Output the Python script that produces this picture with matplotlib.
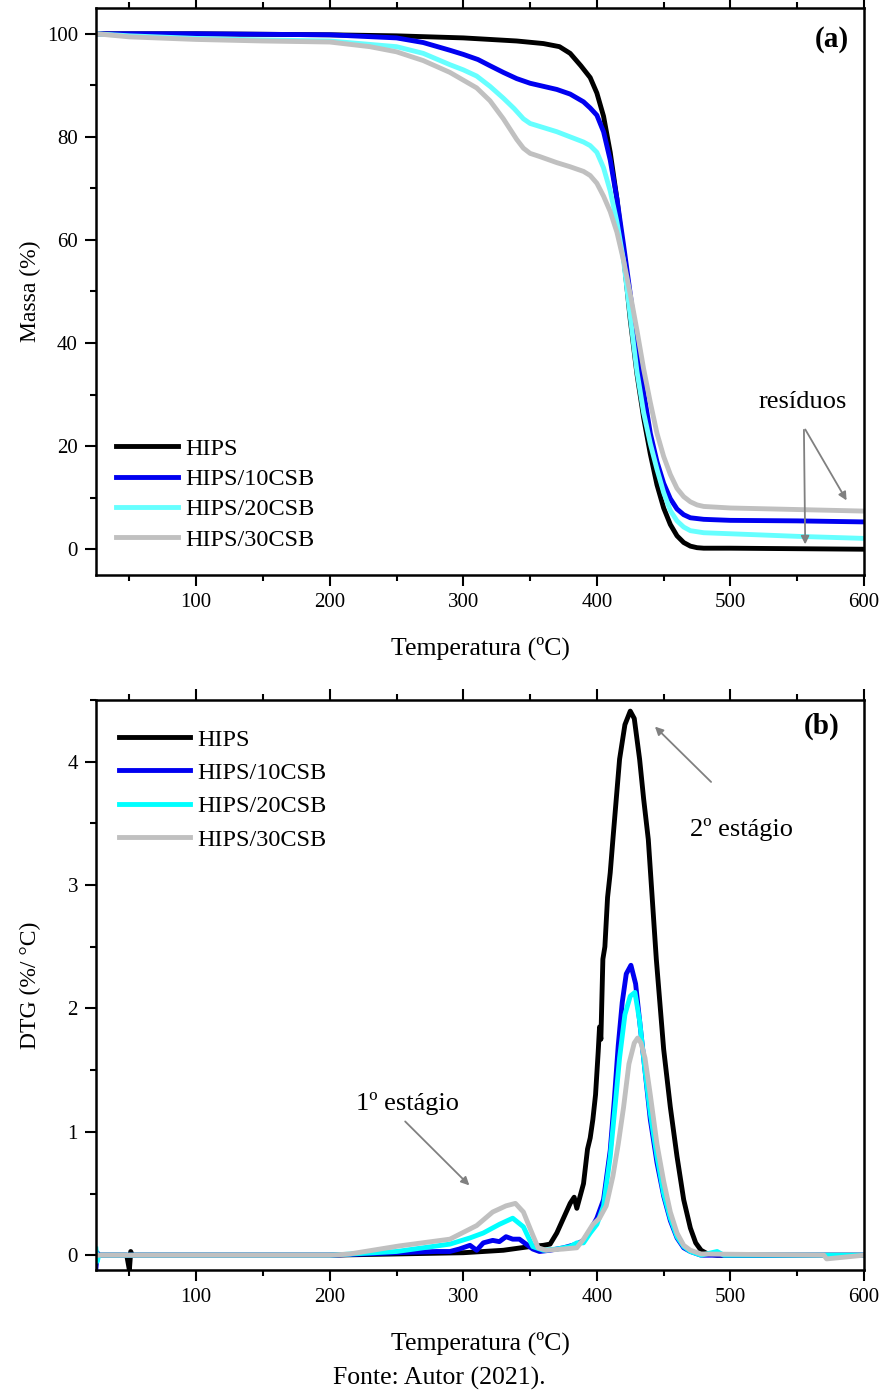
"""TG (a) and DTG (b) curves for HIPS and HIPS/CSB composites."""

import matplotlib

matplotlib.use("Agg")
import matplotlib.pyplot as plt
from matplotlib.ticker import MultipleLocator

plt.rcParams["font.family"] = ["Liberation Serif", "DejaVu Serif"]

W, H = 883, 1391

# ---- (a) TG: mass (%) vs temperature (C) ----
tg_hips_t = [25, 100, 200, 250, 300, 340, 360, 372, 380, 388, 395, 400, 405, 410, 415,
             420, 425, 430, 435, 440, 445, 450, 455, 460, 465, 470, 475, 480, 500, 550, 600]
tg_hips_m = [100, 100, 99.8, 99.6, 99.2, 98.6, 98.1, 97.5, 96.2, 93.8, 91.5, 88.5, 84.0, 77.0, 68.0,
             57.0, 44.5, 34.0, 25.5, 18.5, 12.5, 8.0, 4.8, 2.6, 1.3, 0.6, 0.3, 0.2, 0.2, 0.1, 0.0]

tg_10_t = [25, 100, 200, 250, 270, 290, 300, 311, 320, 330, 340, 350, 360, 370, 380, 390, 395,
           400, 405, 410, 415, 420, 425, 430, 435, 440, 445, 450, 455, 460, 465, 470, 480, 500, 550, 600]
tg_10_m = [100, 100, 99.8, 99.2, 98.3, 96.8, 96.0, 95.0, 93.8, 92.5, 91.3, 90.4, 89.8, 89.2, 88.3, 86.8, 85.6,
           84.2, 81.0, 75.5, 68.0, 59.0, 49.5, 39.5, 30.5, 22.5, 17.0, 12.8, 9.8, 7.8, 6.7, 6.1, 5.8, 5.6, 5.5, 5.3]

tg_20_t = [25, 50, 100, 150, 200, 250, 270, 290, 300, 310, 320, 330, 338, 345, 350, 360, 370, 380, 390,
           395, 400, 405, 410, 415, 420, 426, 430, 435, 440, 445, 450, 455, 460, 465, 470, 480, 500, 550, 600]
tg_20_m = [100, 99.6, 99.1, 98.8, 98.6, 97.5, 96.2, 94.0, 93.0, 91.8, 89.8, 87.5, 85.5, 83.5, 82.6, 81.8, 81.0, 80.0, 79.0,
           78.3, 77.0, 74.0, 69.5, 63.5, 56.0, 43.0, 34.5, 26.5, 20.5, 15.5, 11.0, 7.5, 5.5, 4.3, 3.6, 3.2, 3.0, 2.5, 2.1]

tg_30_t = [25, 50, 100, 150, 200, 230, 250, 270, 290, 300, 310, 320, 330, 340, 345, 350, 357, 370, 380, 390,
           395, 400, 405, 410, 415, 420, 425, 430, 435, 440, 445, 450, 455, 460, 465, 470, 475, 480, 500, 550, 600]
tg_30_m = [100, 99.4, 98.9, 98.6, 98.4, 97.5, 96.5, 94.8, 92.5, 91.0, 89.5, 87.0, 83.5, 79.5, 77.8, 76.8, 76.2, 75.0, 74.2, 73.3,
           72.5, 71.0, 68.5, 65.5, 61.5, 56.0, 49.5, 42.5, 35.0, 28.5, 22.5, 18.0, 14.5, 11.8, 10.2, 9.2, 8.6, 8.3, 8.0, 7.7, 7.4]

# ---- (b) DTG (%/C) vs temperature (C) ----
dtg_hips_t = [25, 48, 50, 51, 52, 100, 200, 250, 300, 330, 350, 360, 365, 370, 375, 380, 383, 385, 387, 390, 393,
              395, 397, 399, 401, 402, 403, 404.5, 406, 408, 410, 412, 417, 421, 425, 428, 432, 435, 438.5,
              444.5, 450, 455, 460, 465, 470, 474, 478, 483, 490, 600]
dtg_hips = [0.0, 0.0, -0.12, 0.03, 0.0, 0.0, 0.0, 0.01, 0.02, 0.04, 0.07, 0.08, 0.09, 0.18, 0.30, 0.42, 0.47, 0.38, 0.46, 0.58, 0.86,
            0.95, 1.10, 1.30, 1.65, 1.85, 1.75, 2.40, 2.50, 2.90, 3.10, 3.37, 4.02, 4.30, 4.41, 4.35, 4.02, 3.70, 3.37,
            2.40, 1.67, 1.20, 0.80, 0.45, 0.22, 0.10, 0.04, 0.01, 0.0, 0.0]

dtg_10_t = [25, 26, 27, 100, 200, 250, 280, 290, 297, 305, 310, 315, 322, 327, 332, 337, 342, 347, 352, 357, 365,
            375, 385, 390, 395, 400, 405, 410, 413, 416, 419, 422, 425.5, 429, 433, 437, 440, 445, 450, 455,
            460, 465, 470, 478, 600]
dtg_10 = [-0.1, 0.02, 0.0, 0.0, 0.0, 0.02, 0.03, 0.03, 0.05, 0.08, 0.04, 0.10, 0.12, 0.11, 0.15, 0.13, 0.13, 0.09, 0.05, 0.03, 0.04,
          0.06, 0.09, 0.12, 0.20, 0.30, 0.45, 0.85, 1.25, 1.70, 2.05, 2.28, 2.35, 2.20, 1.80, 1.40, 1.10, 0.75, 0.48, 0.28,
          0.14, 0.06, 0.03, 0.0, 0.0]

dtg_20_t = [25, 26, 27, 100, 200, 250, 290, 305, 315, 327, 337, 345, 352, 360, 370, 380, 385, 390, 395, 400,
            405, 410, 414, 417, 421, 425, 428.5, 432, 436, 440, 445, 450, 455, 460, 465, 470, 478, 490, 495, 600]
dtg_20 = [0.05, -0.05, 0.0, 0.0, 0.0, 0.03, 0.09, 0.14, 0.18, 0.25, 0.30, 0.23, 0.07, 0.04, 0.05, 0.07, 0.10, 0.10, 0.18, 0.25,
          0.40, 0.80, 1.25, 1.60, 1.95, 2.10, 2.13, 1.90, 1.50, 1.15, 0.80, 0.50, 0.30, 0.15, 0.07, 0.03, 0.0, 0.03, 0.0, 0.0]

dtg_30_t = [25, 100, 200, 215, 252, 290, 310, 322, 332, 339, 345, 351, 356, 362, 375, 385, 390, 397, 402,
            407, 412, 416, 420, 424, 428, 430.5, 433, 436, 440, 445, 450, 455, 460, 465, 470, 478, 570, 572, 600]
dtg_30 = [0.0, 0.0, 0.0, 0.01, 0.075, 0.13, 0.24, 0.35, 0.40, 0.42, 0.35, 0.19, 0.06, 0.04, 0.05, 0.06, 0.13, 0.25, 0.30,
          0.40, 0.64, 0.90, 1.20, 1.55, 1.72, 1.76, 1.72, 1.60, 1.30, 0.90, 0.60, 0.35, 0.18, 0.08, 0.04, 0.01, 0.0, -0.03, 0.0]

labels = ["HIPS", "HIPS/10CSB", "HIPS/20CSB", "HIPS/30CSB"]
colors_a = ["#000000", "#0000f0", "#66ffff", "#c0c0c0"]
colors_b = ["#000000", "#0000f0", "#00ffff", "#c0c0c0"]
ARROW = dict(arrowstyle="-|>", color="#808080", lw=1.3, mutation_scale=12)


def style_axis(ax):
    ax.set_xlim(25, 600)
    ax.xaxis.set_major_locator(MultipleLocator(100))
    ax.xaxis.set_minor_locator(MultipleLocator(50))
    ax.tick_params(which="both", direction="out", top=True, right=False,
                   labeltop=False, width=1.5, labelsize=15, pad=5)
    ax.tick_params(which="major", length=8)
    ax.tick_params(which="minor", length=4)
    for s in ax.spines.values():
        s.set_linewidth(1.8)


fig = plt.figure(figsize=(W / 100, H / 100), dpi=100)

# panel (a)
ax_a = fig.add_axes([96 / W, 1 - 575 / H, 768 / W, 567 / H])
for t, m, c, lab in zip([tg_hips_t, tg_10_t, tg_20_t, tg_30_t],
                        [tg_hips_m, tg_10_m, tg_20_m, tg_30_m], colors_a, labels):
    ax_a.plot(t, m, color=c, lw=3.5, label=lab)
style_axis(ax_a)
ax_a.set_ylim(-5, 105)
ax_a.yaxis.set_major_locator(MultipleLocator(20))
ax_a.yaxis.set_minor_locator(MultipleLocator(10))
ax_a.text(0.98, 0.944, "(a)", transform=ax_a.transAxes, ha="right", va="center",
          fontsize=21, fontweight="bold")
ax_a.text(554, 28.5, "resíduos", ha="center", va="center", fontsize=19)
for tip in [(556, 0.4), (588, 9.0)]:
    ax_a.annotate("", xy=tip, xytext=(555, 23.7), arrowprops=ARROW)
ax_a.legend(loc="upper left", bbox_to_anchor=(0.026, 0.242), frameon=False, fontsize=17.5,
            handlelength=2.55, handletextpad=0.29, labelspacing=0.34, borderpad=0,
            borderaxespad=0)

# panel (b)
ax_b = fig.add_axes([96 / W, 1 - 1270 / H, 768 / W, 570 / H])
for t, d, c, lab in zip([dtg_hips_t, dtg_10_t, dtg_20_t, dtg_30_t],
                        [dtg_hips, dtg_10, dtg_20, dtg_30], colors_b, labels):
    ax_b.plot(t, d, color=c, lw=3.5, label=lab)
style_axis(ax_b)
ax_b.set_ylim(-0.12, 4.5)
ax_b.yaxis.set_major_locator(MultipleLocator(1))
ax_b.yaxis.set_minor_locator(MultipleLocator(0.5))
ax_b.text(0.968, 0.953, "(b)", transform=ax_b.transAxes, ha="right", va="center",
          fontsize=21, fontweight="bold")
ax_b.text(508.5, 3.45, "2º estágio", ha="center", va="center", fontsize=19)
ax_b.annotate("", xy=(442, 4.3), xytext=(487, 3.82), arrowprops=ARROW)
ax_b.text(258.5, 1.23, "1º estágio", ha="center", va="center", fontsize=19)
ax_b.annotate("", xy=(306, 0.55), xytext=(255, 1.10), arrowprops=ARROW)
ax_b.legend(loc="upper left", bbox_to_anchor=(0.03, 0.95), frameon=False, fontsize=17.5,
            handlelength=2.9, handletextpad=0.33, labelspacing=0.47, borderpad=0,
            borderaxespad=0)

# axis titles and source line
fig.text(480 / W, 1 - 648 / H, "Temperatura (ºC)", ha="center", va="center", fontsize=18.5)
fig.text(30 / W, 1 - 291 / H, "Massa (%)", rotation=90, ha="center", va="center", fontsize=17)
fig.text(480 / W, 1 - 1343 / H, "Temperatura (ºC)", ha="center", va="center", fontsize=18.5)
fig.text(30 / W, 1 - 985 / H, "DTG (%/ °C)", rotation=90, ha="center", va="center", fontsize=17)
fig.text(439 / W, 1 - 1378 / H, "Fonte: Autor (2021).", ha="center", va="center", fontsize=18.5)

fig.savefig("out.png", dpi=100)
